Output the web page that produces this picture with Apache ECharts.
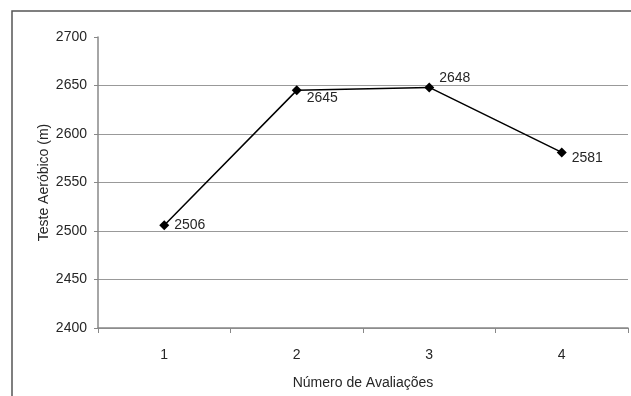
<!DOCTYPE html>
<html>
<head>
<meta charset="utf-8">
<script src="https://cdn.jsdelivr.net/npm/echarts@6/dist/echarts.min.js"></script>
<style>
html,body{margin:0;padding:0;background:#fff;}
#chart{width:631px;height:396px;}
</style>
</head>
<body>
<div id="chart"></div>
<script>
var categories = ['1', '2', '3', '4'];
var values = [2506, 2645, 2648, 2581];
var labelOffsets = [[0, 0], [0, 8], [0, -9], [0, 6]];
var xTitle = 'Número de Avaliações';
var yTitle = 'Teste Aeróbico (m)';

var chart = echarts.init(document.getElementById('chart'));
var font = 'Liberation Sans, Arial, sans-serif';
var txt = '#262626';
var data = values.map(function (v, i) {
  return { value: v, label: { offset: labelOffsets[i] } };
});
chart.setOption({
  animation: false,
  grid: { left: 98, right: 3, top: 37, bottom: 68 },
  xAxis: {
    type: 'category',
    data: categories,
    boundaryGap: true,
    name: xTitle,
    nameLocation: 'middle',
    nameGap: 48,
    nameTextStyle: { color: txt, fontSize: 14, fontFamily: font },
    axisLine: { lineStyle: { color: '#888', width: 1.5 } },
    axisTick: { show: true, length: 5, lineStyle: { color: '#888' } },
    axisLabel: { color: txt, fontSize: 14, fontFamily: font, margin: 20 },
    splitLine: { show: false }
  },
  yAxis: {
    type: 'value',
    min: 2400,
    max: 2700,
    interval: 50,
    name: yTitle,
    nameLocation: 'middle',
    nameGap: 47,
    nameMoveOverlap: false,
    nameTextStyle: { color: txt, fontSize: 14, fontFamily: font },
    axisLine: { show: true, lineStyle: { color: '#888', width: 1.5 } },
    axisTick: { show: true, length: 4, lineStyle: { color: '#888' } },
    axisLabel: { color: txt, fontSize: 14, fontFamily: font, margin: 11, formatter: function (v) { return String(v); } },
    splitLine: { show: true, lineStyle: { color: ['#999', '#999', '#999', '#999', '#999', '#999', 'rgba(0,0,0,0)'], width: 1.2 } }
  },
  series: [{
    type: 'line',
    data: data,
    symbol: 'diamond',
    symbolSize: 10,
    itemStyle: { color: '#000' },
    lineStyle: { color: '#000', width: 1.5 },
    label: { show: true, position: 'right', distance: 5, color: txt, fontSize: 14, fontFamily: font }
  }],
  graphic: [{
    type: 'polyline',
    shape: { points: [[12, 396], [12, 11], [631, 11]] },
    style: { stroke: '#555', lineWidth: 1.5, fill: null }
  }]
});
</script>
</body>
</html>
